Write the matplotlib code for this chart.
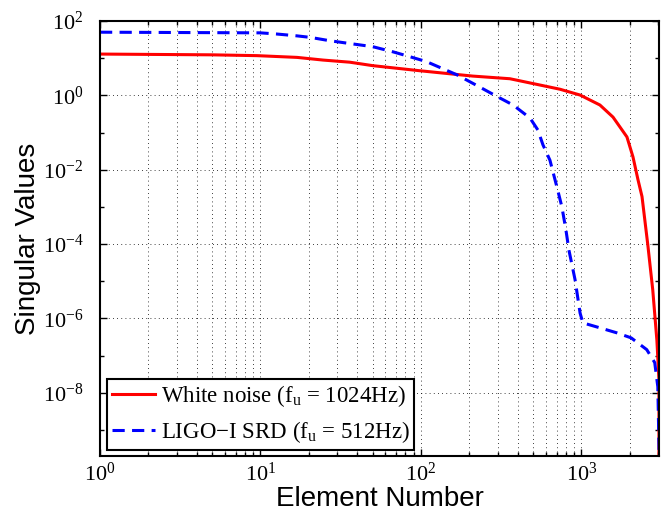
import numpy as np
import matplotlib
matplotlib.use("Agg")
import matplotlib.pyplot as plt
from matplotlib.ticker import LogLocator, NullFormatter, FixedLocator

plt.rcParams["mathtext.fontset"] = "custom"
plt.rcParams["mathtext.rm"] = "Liberation Serif"
plt.rcParams["mathtext.it"] = "Liberation Serif:italic"

# white noise spectrum (f_u = 1024 Hz)
white_x = [1, 5, 9.5, 16.9, 24.5, 36, 50, 98, 210, 358, 550, 735, 980, 1303,
           1572, 1920, 2094, 2249, 2383, 2590, 2780, 2950, 3040, 3041]
white_y = [12.9, 12.3, 11.7, 10.5, 8.9, 7.8, 6.3, 4.6, 3.3, 2.8, 1.9, 1.46,
           1.02, 0.55, 0.26, 0.076, 0.022, 5.4e-3, 1.9e-3, 9.5e-5, 5.9e-6,
           2.6e-7, 2.2e-8, 1e-12]

# LIGO-I SRD (f_u = 512 Hz)
ligo_x = [1, 10, 12.6, 16.9, 20.4, 27, 32.6, 50, 67, 85, 108, 168, 233, 298,
          375, 478, 535, 575, 636, 710, 755, 800, 835, 912, 980, 1020, 1300,
          1660, 2040, 2550, 2860, 2990, 3040, 3041]
ligo_y = [50, 48, 44.7, 39.8, 36.3, 29.5, 26.3, 20.4, 14.8, 11, 8.1, 3.55,
          1.66, 0.93, 0.55, 0.245, 0.117, 0.047, 0.018, 2.9e-3, 1.0e-3,
          2.4e-4, 6.9e-5, 1.1e-5, 1.4e-6, 7.6e-7, 5.6e-7, 4.1e-7, 3.0e-7,
          1.45e-7, 6.5e-8, 1.45e-8, 3.5e-10, 1e-12]

fig = plt.figure(figsize=(6.72, 5.23), dpi=100)
ax = fig.add_axes([100 / 672, 1 - 456 / 523, 559 / 672, 435 / 523])

ax.plot(white_x, white_y, color="red", lw=2.2, label=r"White noise (f$_\mathrm{u}$ = 1024Hz)")
ax.plot(ligo_x, ligo_y, color="blue", lw=2.2, dashes=(4, 2.4),
        label=r"LIGO$-$I SRD (f$_\mathrm{u}$ = 512Hz)")

ax.set_xscale("log")
ax.set_yscale("log")
ax.set_xlim(1, 3041)
ax.set_ylim(10 ** -9.7, 100)

ax.yaxis.set_major_locator(FixedLocator([10.0 ** k for k in range(-8, 3, 2)]))
ax.yaxis.set_minor_locator(FixedLocator([10.0 ** k for k in range(-9, 2, 2)]))
ax.yaxis.set_minor_formatter(NullFormatter())
ax.xaxis.set_minor_locator(LogLocator(base=10, subs=np.arange(2, 10)))
ax.xaxis.set_minor_formatter(NullFormatter())

ax.grid(True, which="major", axis="both", color="black", ls=(0, (1, 4)), lw=0.6)
ax.grid(True, which="minor", axis="x", color="black", ls=(0, (1, 4)), lw=0.6)

ax.tick_params(which="both", direction="in", top=True, right=True, width=1.0)
ax.tick_params(which="major", length=5, labelsize=16)
ax.tick_params(axis="x", which="major", pad=5)
ax.tick_params(axis="y", which="major", pad=12)
ax.tick_params(which="minor", length=3)
for lbl in ax.get_xticklabels() + ax.get_yticklabels():
    lbl.set_family("Liberation Serif")
for s in ax.spines.values():
    s.set_linewidth(1.5)

ax.set_xlabel("Element Number", fontsize=20, family="Liberation Sans", labelpad=0)
ax.set_ylabel("Singular Values", fontsize=20, family="Liberation Sans", labelpad=1)

leg = ax.legend(loc="lower left", bbox_to_anchor=(0.0125, 0.0138), borderaxespad=0,
                fancybox=False, edgecolor="black", framealpha=1,
                prop={"family": "Liberation Serif", "size": 16.5},
                handlelength=1.9, handletextpad=0.25, borderpad=0.2, labelspacing=0.45)
leg.get_frame().set_linewidth(1.5)

fig.savefig("out.png", dpi=100)
